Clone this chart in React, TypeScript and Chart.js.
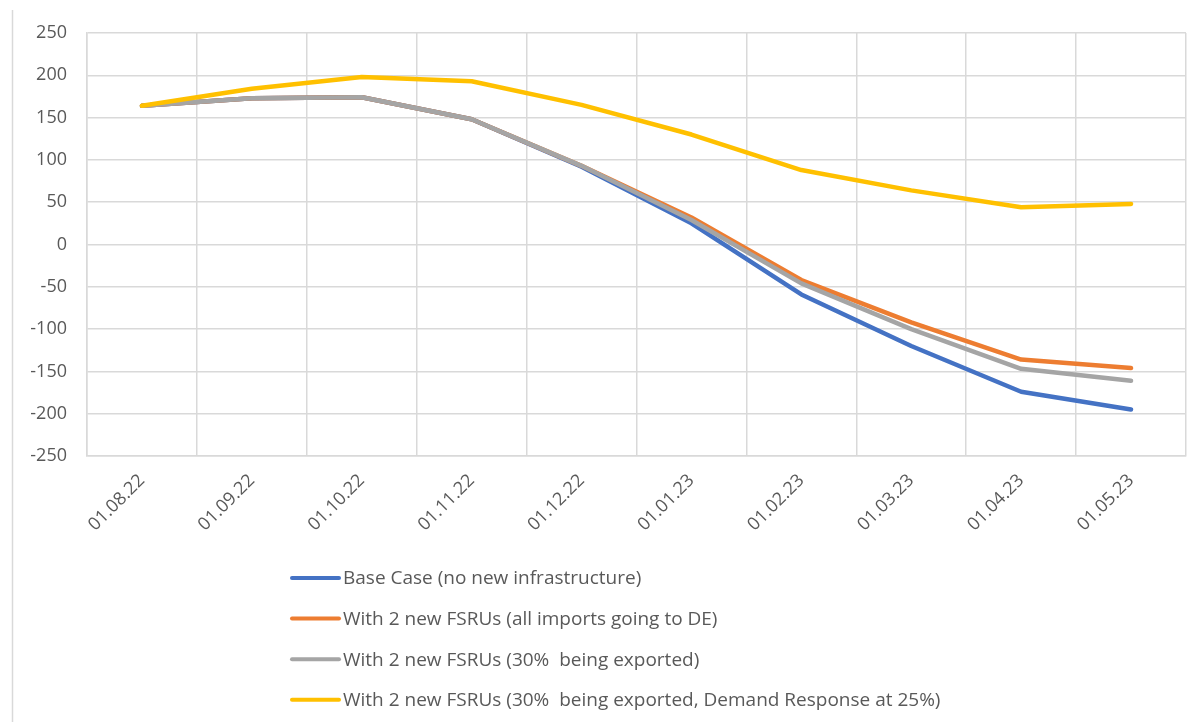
import React, { useEffect, useRef } from "react";
import { Chart, registerables } from "chart.js";

Chart.register(...registerables);

// ---------- data ----------
const categories = [
  "01.08.22",
  "01.09.22",
  "01.10.22",
  "01.11.22",
  "01.12.22",
  "01.01.23",
  "01.02.23",
  "01.03.23",
  "01.04.23",
  "01.05.23",
];

const baseCase = [164, 173, 174, 148, 92, 25, -59, -120, -174, -195];
const fsruAllToDE = [164, 173, 174, 148, 93, 32, -42, -92, -136, -146];
const fsru30Exported = [164, 173, 174, 148, 93, 29, -46, -100, -147, -161];
const fsru30ExportedDR25 = [164, 184, 198, 193, 165, 130, 88, 64, 44, 48];

const seriesLabels = [
  "Base Case (no new infrastructure)",
  "With 2 new FSRUs (all imports going to DE)",
  "With 2 new FSRUs (30%  being exported)",
  "With 2 new FSRUs (30%  being exported, Demand Response at 25%)",
];

const yMin = -250;
const yMax = 250;
const yStep = 50;

// ---------- styles ----------
const FONT = "'Open Sans', sans-serif";
const TEXT_COLOR = "#595959";
const GRID_COLOR = "#d9d9d9";
const COLORS = ["#4472C4", "#ED7D31", "#A5A5A5", "#FFC000"];

export default function App() {
  const canvasRef = useRef<HTMLCanvasElement | null>(null);

  useEffect(() => {
    document.body.style.margin = "0";
    const canvas = canvasRef.current;
    if (!canvas) return;

    const framePlugin = {
      id: "leftFrame",
      beforeDraw(chart: any) {
        const c = chart.ctx;
        c.save();
        c.strokeStyle = GRID_COLOR;
        c.lineWidth = 1.5;
        c.beginPath();
        c.moveTo(12.5, 10);
        c.lineTo(12.5, chart.height);
        c.stroke();
        c.restore();
      },
    };

    const legendPlugin = {
      id: "stackedLegend",
      afterDraw(chart: any) {
        const c = chart.ctx;
        const x0 = 290;
        const y0 = 578;
        const row = 40.6;
        c.save();
        c.font = `19px ${FONT}`;
        c.textBaseline = "middle";
        c.textAlign = "left";
        chart.data.datasets.forEach((ds: any, i: number) => {
          const y = y0 + i * row;
          c.strokeStyle = ds.borderColor;
          c.lineWidth = 4;
          c.lineCap = "round";
          c.beginPath();
          c.moveTo(x0 + 2, y);
          c.lineTo(x0 + 49, y);
          c.stroke();
          c.fillStyle = TEXT_COLOR;
          c.fillText(ds.label, x0 + 53, y + 1);
        });
        c.restore();
      },
    };

    const seriesData = [baseCase, fsruAllToDE, fsru30Exported, fsru30ExportedDR25];
    const drawOrder = [3, 2, 1, 0];

    const chart = new Chart(canvas, {
      type: "line",
      data: {
        labels: categories,
        datasets: seriesData.map((d, i) => ({
          label: seriesLabels[i],
          data: d,
          borderColor: COLORS[i],
          backgroundColor: COLORS[i],
          borderWidth: 4.5,
          borderCapStyle: "round" as const,
          borderJoinStyle: "round" as const,
          pointRadius: 0,
          pointHoverRadius: 0,
          tension: 0,
          fill: false,
          order: drawOrder[i],
        })),
      },
      options: {
        animation: false,
        responsive: true,
        maintainAspectRatio: false,
        layout: {
          padding: { top: 33, left: 12, right: 12, bottom: 156 },
        },
        plugins: {
          legend: { display: false },
          tooltip: { enabled: false },
          title: { display: false },
        },
        scales: {
          x: {
            type: "category",
            offset: true,
            grid: {
              offset: true,
              color: GRID_COLOR,
              lineWidth: 1.5,
              drawTicks: false,
            },
            border: { display: true, color: GRID_COLOR, width: 1.5 },
            ticks: {
              minRotation: 45,
              maxRotation: 45,
              autoSkip: false,
              padding: 14,
              color: TEXT_COLOR,
              font: { family: FONT, size: 18 },
            },
            afterFit(scale: any) {
              scale.height = 110;
            },
          },
          y: {
            min: yMin,
            max: yMax,
            grid: {
              color: GRID_COLOR,
              lineWidth: 1.5,
              drawTicks: false,
            },
            border: { display: true, color: GRID_COLOR, width: 1.5 },
            ticks: {
              stepSize: yStep,
              padding: 20,
              color: TEXT_COLOR,
              font: { family: FONT, size: 18 },
            },
            afterFit(scale: any) {
              scale.width = 75;
            },
          },
        },
      },
      plugins: [framePlugin, legendPlugin],
    });

    return () => {
      chart.destroy();
    };
  }, []);

  return (
    <div style={{ position: "relative", width: 1198, height: 722 }}>
      <canvas ref={canvasRef} />
    </div>
  );
}
